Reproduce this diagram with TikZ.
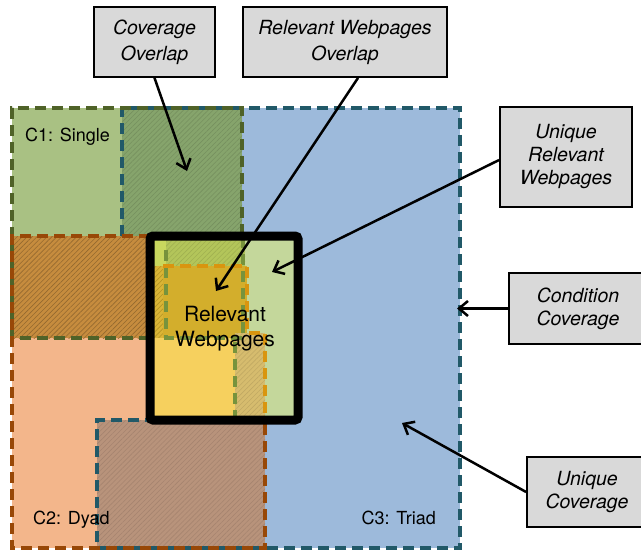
\documentclass[tikz,border=0pt]{standalone}
\usepackage{fontspec}
\setmainfont{TeX Gyre Heros}
\usetikzlibrary{arrows.meta,patterns.meta}
\definecolor{cthreefill}{HTML}{9DBADB}
\definecolor{cthreeline}{HTML}{215968}
\definecolor{conefill}{HTML}{A9C183}
\definecolor{coneline}{HTML}{4F6228}
\definecolor{ctwofill}{HTML}{F3B68B}
\definecolor{ctwoline}{HTML}{984807}
\definecolor{ovgreen}{HTML}{86A46C}
\definecolor{ovorange}{HTML}{C68C3E}
\definecolor{ovbrown}{HTML}{B8937B}
\definecolor{relgreen}{HTML}{C4D79B}
\definecolor{relolive}{HTML}{B3C55A}
\definecolor{rellime}{HTML}{C9D85E}
\definecolor{relgold}{HTML}{D3AE2C}
\definecolor{relyellow}{HTML}{F6D05E}
\definecolor{reltan}{HTML}{D6BC6E}
\definecolor{innerorange}{HTML}{D9950F}
\definecolor{innergreen}{HTML}{77933C}
\definecolor{calloutgray}{HTML}{D9D9D9}
\tikzset{
  cond/.style={dash pattern=on 11pt off 6pt,line width=4pt},
  hatch/.style={pattern={Lines[angle=45,distance=3.5pt,line width=0.6pt]},pattern color=#1},
  callout/.style={draw=black,line width=1.8pt,fill=calloutgray,align=center,inner sep=0pt,
    font=\itshape\fontsize{19.5}{23}\selectfont},
  region/.style={font=\fontsize{18}{22}\selectfont,inner sep=0pt},
  pointer/.style={->,>={Straight Barb[length=9pt,width=15pt]},line width=2.5pt}
}
\begin{document}
\begin{tikzpicture}[x=1pt,y=-1pt]
\useasboundingbox[fill=white] (0,0) rectangle (641,551);
% condition coverage
\fill[cthreefill] (122,108) rectangle (460,548);
\fill[conefill] (12,108) rectangle (242,236);
\fill[ovgreen] (122,108) rectangle (242,236);
\fill[hatch=ovgreen!88!black] (122,108) rectangle (242,236);
\fill[ctwofill] (12,236) rectangle (265,548);
\fill[ovorange] (12,236) rectangle (150,338);
\fill[hatch=ovorange!75!black] (12,236) rectangle (150,338);
\fill[ovbrown] (97,420) rectangle (265,548);
\fill[hatch=ovbrown!90!black] (97,420) rectangle (265,548);
% relevant webpages
\fill[relgreen] (150,236) rectangle (298,420);
\fill[relolive] (150,236) rectangle (245,266);
\fill[hatch=relolive!90!black] (166,236) rectangle (245,266);
\fill[rellime] (150,236) rectangle (166,266);
\fill[relgold!80!relyellow] (150,266) rectangle (163,338);
\fill[hatch=relgold!85!black] (150,266) rectangle (163,338);
\fill[relgold] (163,266) rectangle (247,338);
\fill[relyellow] (150,338) rectangle (235,420);
\fill[reltan] (235,333) rectangle (265,420);
\fill[hatch=reltan!90!black] (235,333) rectangle (265,420);
% dashed outlines
\draw[cond,cthreeline] (122,236) -- (122,108) -- (460,108) -- (460,548) -- (97,548) -- (97,420) -- (150,420);
\draw[cond,coneline] (150,338) -- (12,338) -- (12,108) -- (242,108) -- (242,236);
\draw[cond,ctwoline] (150,236) -- (12,236) -- (12,548) -- (265,548) -- (265,424);
\draw[cond,innergreen] (166,250) -- (166,338) -- (243,338) -- (243,240);
\draw[cond,innergreen] (235,342) -- (235,420);
\draw[cond,innerorange] (163,266) -- (247,266) -- (247,333) -- (265,333) -- (265,420);
\draw[line width=9pt,rounded corners=3pt] (150,236) rectangle (298,420);
% labels
\node[region,anchor=base west] (single) at (25,142) {C1: Single};
\node[region,anchor=base west] (dyad) at (33,524) {C2: Dyad};
\node[region,anchor=base east] (triad) at (436,524) {C3: Triad};
\node[font=\fontsize{21}{25}\selectfont,align=center,inner sep=0pt] (relweb) at (225,329) {Relevant\\Webpages};
% callouts
\node[callout,font=\itshape\fontsize{19.5}{26}\selectfont,minimum width=121pt,minimum height=70pt] (covov) at (154.5,42) {Coverage\\Overlap};
\node[callout,font=\itshape\fontsize{19.5}{26}\selectfont,minimum width=204pt,minimum height=70pt] (rwo) at (345,42) {Relevant Webpages\\Overlap};
\node[callout,minimum width=132pt,minimum height=100pt] (urw) at (566,157) {Unique\\Relevant\\Webpages};
\node[callout,minimum width=138pt,minimum height=71pt] (cc) at (578,308.5) {Condition\\Coverage};
\node[callout,minimum width=120pt,minimum height=70pt] (uc) at (587,492) {Unique\\Coverage};
\coordinate (covtip) at (187,171);
\coordinate (rwotip) at (216,291);
\coordinate (urwtip) at (272,272);
\coordinate (cctip) at (457,308.5);
\coordinate (uctip) at (402,423);
\draw[pointer] (covov.south) -- (covtip);
\draw[pointer] ([xshift=13pt]rwo.south) -- (rwotip);
\draw[pointer] ([yshift=-3pt]urw.west) -- (urwtip);
\draw[pointer] (cc.west) -- (cctip);
\draw[pointer] (uc.west) -- (uctip);
\end{tikzpicture}
\end{document}
